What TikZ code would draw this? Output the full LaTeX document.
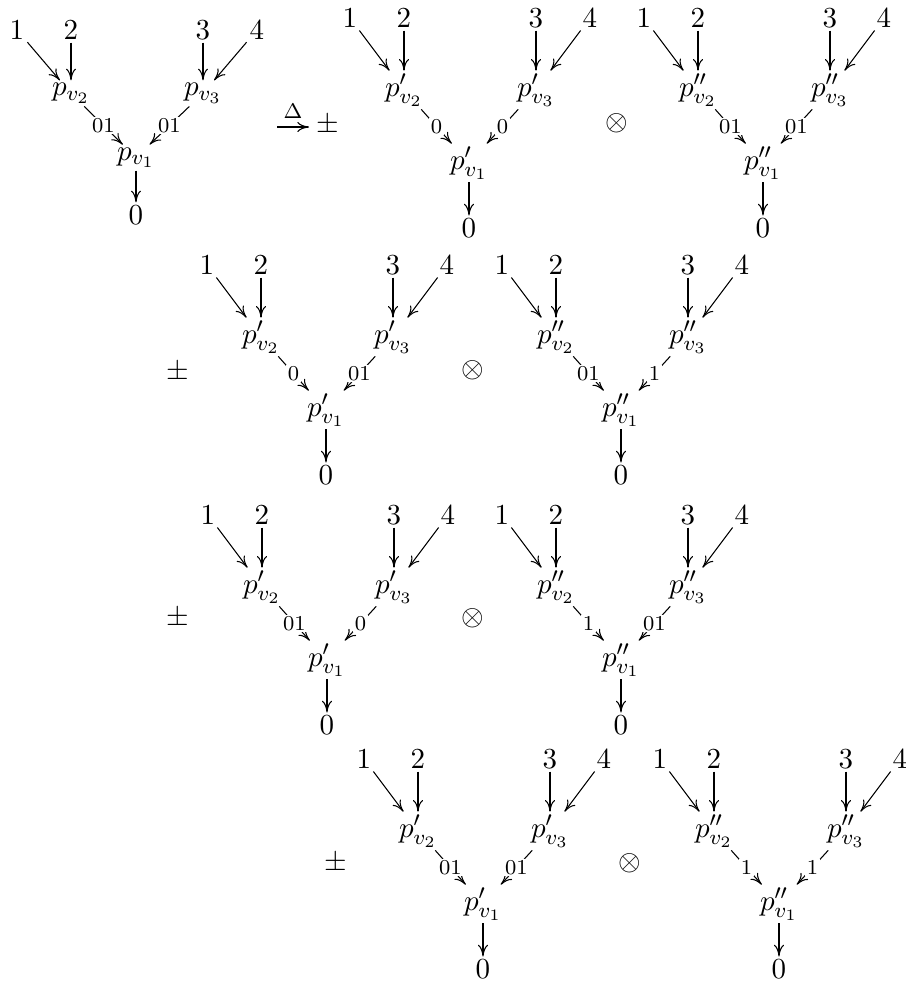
\documentclass[tikz,border=0pt,11pt]{standalone}
\usepackage{amsmath}
\usepackage{amssymb}
\usepackage{tikz}
\usetikzlibrary{arrows.meta}

% one tree: name, position, yscale, prime, left label, right label
\newcommand{\ytree}[6]{%
\begin{scope}[shift={#2}, yscale=#3]
\node[vtx] (#1-1) at (-119, 0) {$1$};
\node[vtx] (#1-2) at (-65, 0) {$2$};
\node[vtx] (#1-3) at (67, 0) {$3$};
\node[vtx] (#1-4) at (121, 0) {$4$};
\node[vtx] (#1-v2) at (-65, 72) {$p#4_{v_2}$};
\node[vtx] (#1-v3) at (67, 72) {$p#4_{v_3}$};
\node[vtx] (#1-v1) at (0, 145) {$p#4_{v_1}$};
\node[vtx] (#1-0) at (0, 210) {$0$};
\draw[->] (#1-1) -- (#1-v2);
\draw[->] (#1-2) -- (#1-v2);
\draw[->] (#1-3) -- (#1-v3);
\draw[->] (#1-4) -- (#1-v3);
\draw[->] (#1-v2) -- node[lbl] {$#5$} (#1-v1);
\draw[->] (#1-v3) -- node[lbl] {$#6$} (#1-v1);
\draw[->] (#1-v1) -- (#1-0);
\end{scope}}

\begin{document}
\begin{tikzpicture}[x=0.3774pt, y=-0.3774pt,
  >={To[length=4.4pt, width=3.8pt]},
  vtx/.style={inner sep=1pt},
  lbl/.style={fill=white, inner sep=0.8pt, font=\scriptsize}]
\useasboundingbox (0,0) rectangle (906,985);

% first row
\ytree{a}{(136,30)}{0.88}{}{01}{01}
\node[inner sep=0pt, font=\scriptsize] (delta) at (293,111) {$\Delta$};
\coordinate (da) at (277,127);
\coordinate (db) at (309,127);
\draw[->] (da) -- (db);
\node[inner sep=0pt] (pm1) at (328,125) {$\pm$};
\ytree{b}{(469,18)}{1}{'}{0}{0}
\node (ot1) at (617,123) {$\otimes$};
\ytree{c}{(763,18)}{1}{''}{01}{01}

% second row
\node (pm2) at (178,372) {$\pm$};
\ytree{d}{(326,265)}{1}{'}{0}{01}
\node (ot2) at (473,370) {$\otimes$};
\ytree{e}{(621,265)}{1}{''}{01}{1}

% third row
\node (pm3) at (178,618) {$\pm$};
\ytree{f}{(327,515)}{1}{'}{01}{0}
\node (ot3) at (473,618) {$\otimes$};
\ytree{g}{(621,515)}{1}{''}{1}{01}

% fourth row
\node (pm4) at (336,863) {$\pm$};
\ytree{h}{(483,759)}{1}{'}{01}{01}
\node (ot4) at (630,863) {$\otimes$};
\ytree{k}{(779,759)}{1}{''}{1}{1}

\end{tikzpicture}
\end{document}
